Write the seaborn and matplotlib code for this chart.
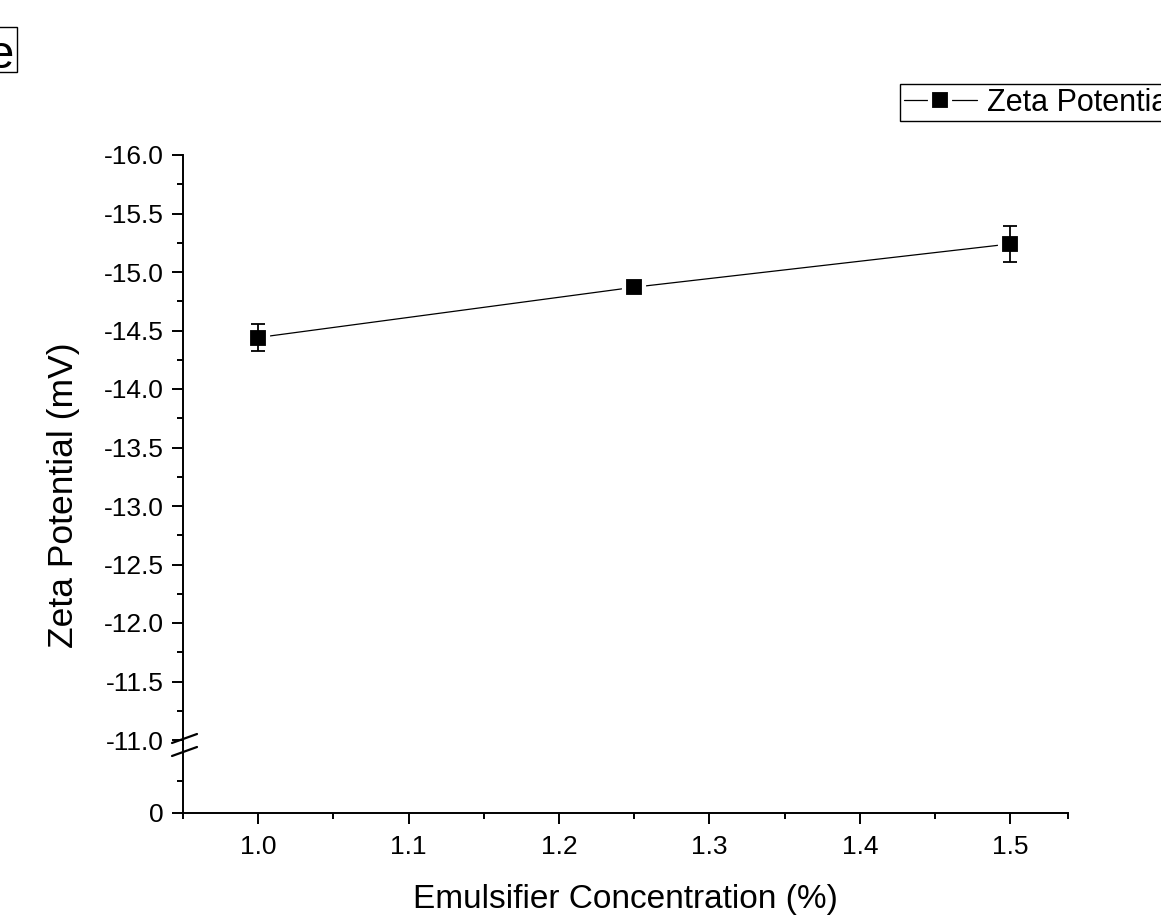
import numpy as np
import matplotlib
matplotlib.use("Agg")
import matplotlib.pyplot as plt
from matplotlib.lines import Line2D
from matplotlib.patches import Rectangle
from matplotlib.ticker import FixedLocator, FuncFormatter, MultipleLocator
import seaborn as sns

# ---- data ----
concentration = [1.0, 1.25, 1.5]
zeta_potential = [-14.44, -14.87, -15.24]
zeta_error = [0.115, 0.02, 0.154]
series_label = "Zeta Potential"
x_label = "Emulsifier Concentration (%)"
y_label = "Zeta Potential (mV)"
panel_tag = "e"
y_major_ticks = [-16.0, -15.5, -15.0, -14.5, -14.0, -13.5, -13.0, -12.5, -12.0, -11.5, -11.0]
x_major_ticks = [1.0, 1.1, 1.2, 1.3, 1.4, 1.5]

sns.set_theme(style="ticks")
plt.rcParams["font.family"] = ["Liberation Sans", "DejaVu Sans"]
plt.rcParams["text.color"] = "black"
plt.rcParams["axes.labelcolor"] = "black"
plt.rcParams["xtick.color"] = "black"
plt.rcParams["ytick.color"] = "black"
plt.rcParams["xtick.labelcolor"] = "black"
plt.rcParams["ytick.labelcolor"] = "black"

W, H = 1161, 924
fig = plt.figure(figsize=(W / 100, H / 100), dpi=100)

def fx(px):
    return px / W

def fy(py):
    return 1 - py / H

left_px, right_px = 183, 1068
top_px, brk_px, bot_px = 155, 745, 813

ax = fig.add_axes([fx(left_px), fy(brk_px), fx(right_px - left_px), (brk_px - top_px) / H])
axb = fig.add_axes([fx(left_px), fy(bot_px), fx(right_px - left_px), (bot_px - brk_px) / H], sharex=ax)

for a in (ax, axb):
    a.set_facecolor("none")
    for s in ("top", "right"):
        a.spines[s].set_visible(False)
    for s in ("left", "bottom"):
        a.spines[s].set_linewidth(1.4)
        a.spines[s].set_color("black")
ax.spines["bottom"].set_visible(False)

# ---- data marks ----
sns.lineplot(x=concentration, y=zeta_potential, ax=ax, color="black", lw=0.9,
             zorder=2, legend=False)
sns.scatterplot(x=concentration, y=zeta_potential, ax=ax, marker="s", s=200,
                color="black", edgecolor="white", linewidth=3.0, zorder=3, legend=False)
ax.errorbar(concentration, zeta_potential, yerr=zeta_error, fmt="none",
            ecolor="black", elinewidth=1.3, capsize=4.8, capthick=1.3, zorder=4)

# ---- axes ranges ----
xmin = 0.95
xmax = xmin + (right_px - left_px) / 1504
ax.set_xlim(xmin, xmax)
ymin_top = -11.0 + (brk_px - 740) / 117
ax.set_ylim(ymin_top, -16.0)
axb.set_ylim(0, -1.0625)

# ---- ticks ----
fmt = FuncFormatter(lambda v, p: f"{v:.1f}")
ax.yaxis.set_major_locator(FixedLocator(y_major_ticks))
ax.yaxis.set_major_formatter(fmt)
ax.yaxis.set_minor_locator(MultipleLocator(0.25))
ax.tick_params(axis="x", which="both", bottom=False, labelbottom=False)
ax.tick_params(axis="y", which="major", direction="out", length=8, width=1.4,
               labelsize=19, pad=6, color="black", labelcolor="black")
ax.tick_params(axis="y", which="minor", direction="out", length=4.5, width=1.4, color="black")

axb.yaxis.set_major_locator(FixedLocator([0]))
axb.yaxis.set_major_formatter(FuncFormatter(lambda v, p: "0"))
axb.yaxis.set_minor_locator(FixedLocator([-0.5]))
axb.xaxis.set_major_locator(FixedLocator(x_major_ticks))
axb.xaxis.set_major_formatter(fmt)
axb.xaxis.set_minor_locator(FixedLocator([0.95, 1.05, 1.15, 1.25, 1.35, 1.45, xmax]))
axb.tick_params(axis="both", which="major", direction="out", length=8, width=1.4,
                labelsize=19, pad=6, color="black", labelcolor="black")
axb.tick_params(axis="both", which="minor", direction="out", length=4.5, width=1.4, color="black")
axb.tick_params(axis="x", which="major", pad=8)
ax.set_xlabel("")
ax.set_ylabel("")
axb.set_xlabel("")
axb.set_ylabel("")

# ---- break marks ----
for (x0, y0, x1, y1) in [(172, 743, 197, 734), (172, 756, 197, 747)]:
    fig.add_artist(Line2D([fx(x0), fx(x1)], [fy(y0), fy(y1)], color="black", lw=1.6))

# ---- labels ----
fig.text(fx(625), fy(908), x_label, ha="center", va="baseline", fontsize=24, color="black")
fig.text(fx(64), fy(495), y_label, ha="center", va="center", rotation=90,
         fontsize=25.5, color="black")

# ---- panel tag ----
fig.add_artist(Rectangle((fx(-40), fy(72)), fx(57), (72 - 27) / H, fill=False,
                         edgecolor="black", lw=1.0, transform=fig.transFigure))
fig.text(fx(14), fy(68), panel_tag, ha="right", va="baseline", fontsize=34, color="black")

# ---- legend ----
handle = Line2D([], [], color="black", lw=0.9, marker="s", markersize=14,
                markerfacecolor="black", markeredgecolor="white", markeredgewidth=3.0)
leg = fig.legend([handle], [series_label], loc="upper left",
                 bbox_to_anchor=(fx(900), fy(84)), fontsize=22, frameon=True,
                 fancybox=False, shadow=False, framealpha=1, borderpad=0.12,
                 handlelength=2.4, handletextpad=0.33, borderaxespad=0)
leg.get_frame().set_edgecolor("black")
leg.get_frame().set_linewidth(1.0)
for t in leg.get_texts():
    t.set_color("black")

fig.savefig("out.png", dpi=100)
